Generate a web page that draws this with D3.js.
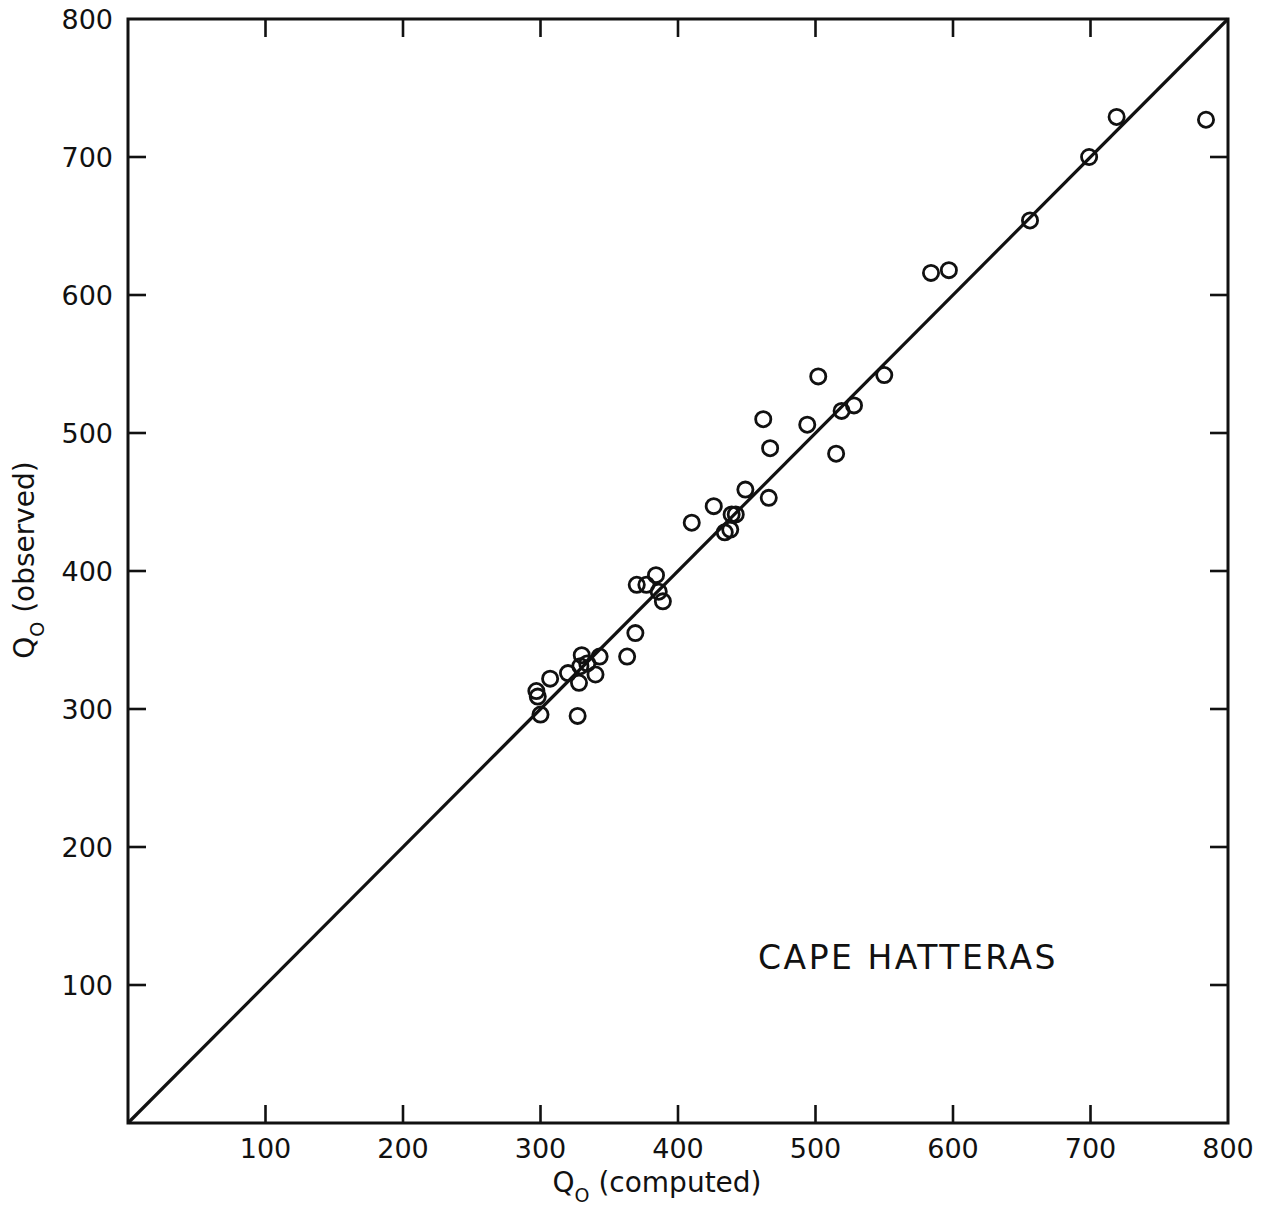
<!DOCTYPE html>
<html>
<head>
<meta charset="utf-8">
<script src="https://cdn.jsdelivr.net/npm/d3@7"></script>
<style>
  body { margin: 0; background: #fff; }
  svg { display: block; }
  text { font-family: "DejaVu Sans", "Open Sans", sans-serif; fill: #111; }
</style>
</head>
<body>
<svg id="chart" width="1270" height="1205"></svg>
<script>
// Data (Q0 computed vs observed, Cape Hatteras)
const computed = [719, 784, 699, 656, 584, 597, 502, 550,
  462, 494, 519, 528, 467, 515, 449, 466, 426, 439, 442, 410, 434, 438,
  384, 370, 377, 386, 389, 369, 363, 330, 343, 329, 334, 340, 320, 307, 328, 297, 298, 300, 327];
const observed = [729, 727, 700, 654, 616, 618, 541, 542,
  510, 506, 516, 520, 489, 485, 459, 453, 447, 441, 441, 435, 428, 430,
  397, 390, 390, 385, 378, 355, 338, 339, 338, 331, 333, 325, 326, 322, 319, 313, 309, 296, 295];
const tickValues = [100, 200, 300, 400, 500, 600, 700];
const labelValues = [100, 200, 300, 400, 500, 600, 700, 800];
const title = "CAPE HATTERAS";

const svg = d3.select("#chart");
const mLeft = 128, mRight = 1228, mTop = 19, mBottom = 1123;
const x = d3.scaleLinear().domain([0, 800]).range([mLeft, mRight]);
const y = d3.scaleLinear().domain([0, 800]).range([mBottom, mTop]);
const tickLen = 18;

// frame
svg.append("rect").attr("x", mLeft).attr("y", mTop)
  .attr("width", mRight - mLeft).attr("height", mBottom - mTop)
  .attr("fill", "none").attr("stroke", "#111").attr("stroke-width", 3);

// inward ticks on all four sides
const g = svg.append("g").attr("stroke", "#111").attr("stroke-width", 2.6);
tickValues.forEach(v => {
  g.append("line").attr("x1", x(v)).attr("x2", x(v)).attr("y1", mBottom).attr("y2", mBottom - tickLen);
  g.append("line").attr("x1", x(v)).attr("x2", x(v)).attr("y1", mTop).attr("y2", mTop + tickLen);
  g.append("line").attr("y1", y(v)).attr("y2", y(v)).attr("x1", mLeft).attr("x2", mLeft + tickLen);
  g.append("line").attr("y1", y(v)).attr("y2", y(v)).attr("x1", mRight).attr("x2", mRight - tickLen);
});

// tick labels
labelValues.forEach(v => {
  svg.append("text").attr("x", x(v)).attr("y", mBottom + 35)
    .attr("text-anchor", "middle").attr("font-size", 27).text(v);
  svg.append("text").attr("x", mLeft - 15).attr("y", y(v) + 10)
    .attr("text-anchor", "end").attr("font-size", 27).text(v);
});

// diagonal 1:1 line
svg.append("line")
  .attr("x1", x(0)).attr("y1", y(0)).attr("x2", x(800)).attr("y2", y(800))
  .attr("stroke", "#111").attr("stroke-width", 3.2);

// points
const pts = computed.map((c, i) => ({ c, o: observed[i] }));
svg.append("g").selectAll("circle").data(pts).join("circle")
  .attr("cx", d => x(d.c)).attr("cy", d => y(d.o)).attr("r", 7.6)
  .attr("fill", "none").attr("stroke", "#111").attr("stroke-width", 2.8);

// axis titles
const xt = svg.append("text").attr("x", 657).attr("y", 1192)
  .attr("text-anchor", "middle").attr("font-size", 28);
xt.append("tspan").text("Q");
xt.append("tspan").attr("font-size", 19).attr("dy", 10).text("O");
xt.append("tspan").attr("dy", -10).text(" (computed)");

const yt = svg.append("text").attr("transform", "translate(34,560) rotate(-90)")
  .attr("text-anchor", "middle").attr("font-size", 28);
yt.append("tspan").text("Q");
yt.append("tspan").attr("font-size", 19).attr("dy", 10).text("O");
yt.append("tspan").attr("dy", -10).text(" (observed)");

svg.append("text").attr("x", 908).attr("y", 969)
  .attr("text-anchor", "middle").attr("font-size", 33).attr("letter-spacing", 2.5)
  .text(title);
</script>
</body>
</html>
